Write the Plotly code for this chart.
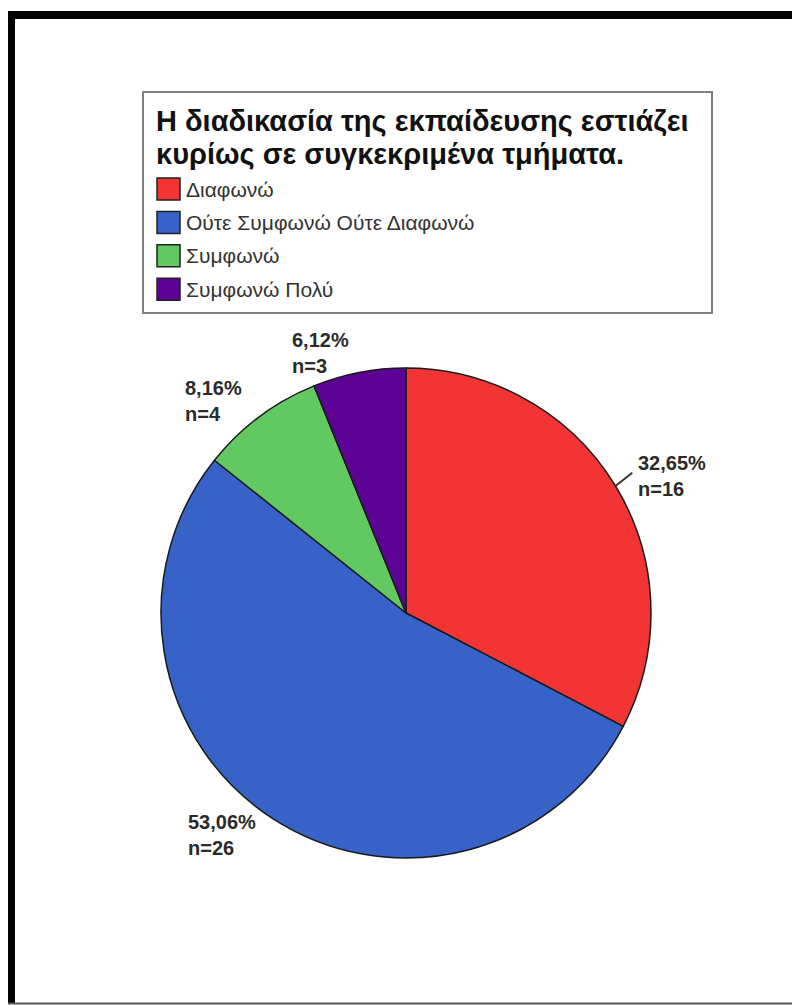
import math
import plotly.graph_objects as go

# Survey responses
categories = ["Διαφωνώ", "Ούτε Συμφωνώ Ούτε Διαφωνώ", "Συμφωνώ", "Συμφωνώ Πολύ"]
counts = [16, 26, 4, 3]
colors = ["#F23434", "#3763C9", "#62C862", "#5C0396"]
title_lines = ["Η διαδικασία της εκπαίδευσης εστιάζει", "κυρίως σε συγκεκριμένα τμήματα."]

W, H = 792, 1005
CX, CY, R = 406, 613, 245          # pie centre and radius in pixels


def px(x):
    return x / W


def py(y):
    return 1 - y / H


fig = go.Figure()
fig.add_trace(go.Pie(
    labels=categories,
    values=counts,
    sort=False,
    direction="clockwise",
    rotation=0,
    marker=dict(colors=colors, line=dict(color="#1a1a1a", width=1.5)),
    textinfo="none",
    hoverinfo="label+value+percent",
    showlegend=False,
    domain=dict(x=[px(CX - R), px(CX + R)], y=[py(CY + R), py(CY - R)]),
))

annotations = []
shapes = []

# Slice labels placed just outside the rim at each slice's mid-angle
total = sum(counts)
start = 0.0
for cat, n in zip(categories, counts):
    sweep = 360.0 * n / total
    mid = math.radians(start + sweep / 2)
    start += sweep
    pct = f"{100 * n / total:.2f}".replace(".", ",")
    rx, ry = CX + 1.08 * R * math.sin(mid), CY - 1.08 * R * math.cos(mid)
    right_side = math.sin(mid) > 0
    annotations.append(dict(
        x=px(rx + (4 if right_side else -4)), y=py(ry), xref="paper", yref="paper",
        text=f"<b>{pct}%<br>n={n}</b>", showarrow=False, align="left",
        xanchor="left" if right_side else "right", yanchor="middle",
        font=dict(family="Liberation Sans, Arial", size=20, color="#2b2b2b"),
    ))
    if right_side:
        ex, ey = CX + R * math.sin(mid), CY - R * math.cos(mid)
        shapes.append(dict(type="line", xref="paper", yref="paper",
                           x0=px(ex), y0=py(ey), x1=px(rx), y1=py(ry - 3),
                           line=dict(color="#333333", width=2)))

# Legend panel
shapes.append(dict(type="rect", xref="paper", yref="paper",
                   x0=px(143), y0=py(313), x1=px(712), y1=py(92),
                   line=dict(color="#808080", width=2), fillcolor="rgba(0,0,0,0)"))
for i, line in enumerate(title_lines):
    annotations.append(dict(
        x=px(154), y=py(121 + 33 * i), xref="paper", yref="paper",
        text=f"<b>{line}</b>", showarrow=False, xanchor="left", yanchor="middle",
        font=dict(family="Liberation Sans, Arial", size=29, color="#111111"),
    ))
for i, (cat, col) in enumerate(zip(categories, colors)):
    top = 178 + 33.4 * i
    shapes.append(dict(type="rect", xref="paper", yref="paper",
                       x0=px(157), y0=py(top + 22), x1=px(180), y1=py(top),
                       line=dict(color="#222222", width=1.5), fillcolor=col))
    annotations.append(dict(
        x=px(184), y=py(top + 11), xref="paper", yref="paper",
        text=cat, showarrow=False, xanchor="left", yanchor="middle",
        font=dict(family="Liberation Sans, Arial", size=21, color="#333333"),
    ))

# Page frame: heavy left and top rules, thin bottom rule
shapes.append(dict(type="rect", xref="paper", yref="paper",
                   x0=px(8), y0=py(1003), x1=px(15), y1=py(11),
                   line=dict(width=0), fillcolor="black"))
shapes.append(dict(type="rect", xref="paper", yref="paper",
                   x0=px(8), y0=py(19), x1=px(792), y1=py(11),
                   line=dict(width=0), fillcolor="black"))
shapes.append(dict(type="line", xref="paper", yref="paper",
                   x0=px(8), y0=py(1003.5), x1=px(792), y1=py(1003.5),
                   line=dict(color="#555555", width=2)))

fig.update_layout(
    width=W, height=H,
    margin=dict(l=0, r=0, t=0, b=0),
    paper_bgcolor="white", plot_bgcolor="white",
    shapes=shapes, annotations=annotations,
)

fig.write_html("out.html")
